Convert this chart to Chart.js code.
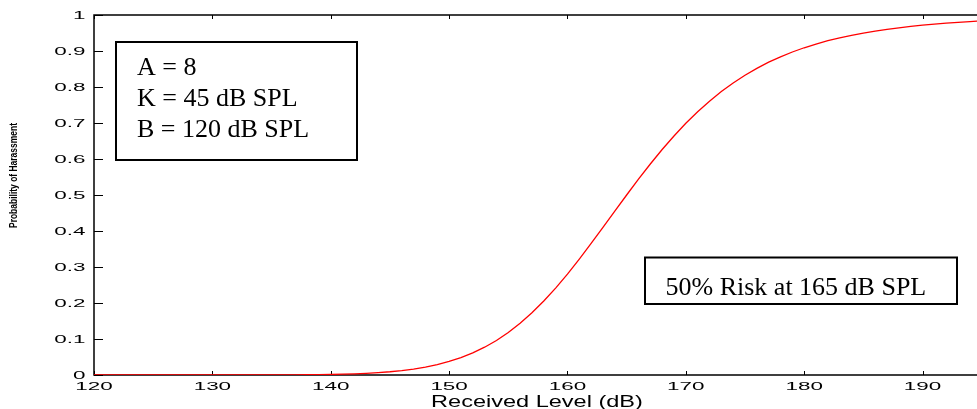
<!DOCTYPE html>
<html>
<head>
<meta charset="utf-8">
<script src="https://cdn.jsdelivr.net/npm/chart.js@4"></script>
<style>
  body { margin: 0; background: #fff; }
  canvas { display: block; }
</style>
</head>
<body>
<canvas id="chart" width="977" height="409"></canvas>
<script>
// received level (dB) and probability of harassment
const levels = [120, 121, 122, 123, 124, 125, 126, 127, 128, 129, 130, 131, 132, 133, 134, 135,
  136, 137, 138, 139, 140, 141, 142, 143, 144, 145, 146, 147, 148, 149, 150, 151, 152, 153, 154,
  155, 156, 157, 158, 159, 160, 161, 162, 163, 164, 165, 166, 167, 168, 169, 170, 171, 172, 173,
  174, 175, 176, 177, 178, 179, 180, 181, 182, 183, 184, 185, 186, 187, 188, 189, 190, 191, 192,
  193, 194, 195];
const risk = [0, 0, 0, 0, 0, 0, 0, 0, 0, 0, 0, 0.00001, 0.00003, 0.00005, 0.00009, 0.00015,
  0.00026, 0.00041, 0.00066, 0.00101, 0.00152, 0.00224, 0.00325, 0.00464, 0.0065, 0.009, 0.0123,
  0.0165, 0.022, 0.0289, 0.0376, 0.0483, 0.0614, 0.0772, 0.096, 0.1181, 0.1437, 0.1727, 0.2054,
  0.2414, 0.2804, 0.322, 0.3654, 0.41, 0.4552, 0.5, 0.5438, 0.5861, 0.6263, 0.664, 0.6991, 0.7313,
  0.7607, 0.7873, 0.8113, 0.8328, 0.8519, 0.8689, 0.8839, 0.8972, 0.909, 0.9194, 0.9285, 0.9365,
  0.9436, 0.9499, 0.9554, 0.9602, 0.9645, 0.9683, 0.9717, 0.9746, 0.9773, 0.9796, 0.9816, 0.9835];
const xTicks = [120, 130, 140, 150, 160, 170, 180, 190];
const yTicks = [0, 0.1, 0.2, 0.3, 0.4, 0.5, 0.6, 0.7, 0.8, 0.9, 1];
const yTickLabels = ["0", "0.1", "0.2", "0.3", "0.4", "0.5", "0.6", "0.7", "0.8", "0.9", "1"];
const paramLines = ["A = 8", "K = 45 dB SPL", "B = 120 dB SPL"];
const riskNote = "50% Risk at 165 dB SPL";

// matlab-ish text is stretched sideways, so draw it with a horizontal scale
function wideText(ctx, text, x, y, sx, align) {
  ctx.save();
  ctx.translate(x, y);
  ctx.scale(sx, 1);
  ctx.textAlign = align;
  ctx.fillText(text, 0, 0);
  ctx.restore();
}

const axesPlugin = {
  id: "matlabAxes",
  beforeDatasetsDraw(chart) {
    const {ctx, chartArea: a, scales: {x, y}} = chart;
    ctx.save();
    ctx.strokeStyle = "#000";
    ctx.lineWidth = 1.5;
    ctx.beginPath();
    ctx.moveTo(a.right + 2, a.top);
    ctx.lineTo(a.left, a.top);
    ctx.lineTo(a.left, a.bottom);
    ctx.lineTo(a.right + 2, a.bottom);
    ctx.stroke();

    ctx.lineWidth = 1;
    ctx.beginPath();
    xTicks.forEach(v => {
      const px = Math.round(x.getPixelForValue(v)) + 0.5;
      ctx.moveTo(px, a.bottom); ctx.lineTo(px, a.bottom - 4);
      ctx.moveTo(px, a.top); ctx.lineTo(px, a.top + 4);
    });
    yTicks.forEach(v => {
      const py = Math.round(y.getPixelForValue(v)) + 0.5;
      ctx.moveTo(a.left, py); ctx.lineTo(a.left + 9, py);
    });
    ctx.stroke();

    ctx.fillStyle = "#000";
    ctx.font = "11.5px 'Liberation Sans', Arial, sans-serif";
    ctx.textBaseline = "alphabetic";
    xTicks.forEach(v => {
      wideText(ctx, String(v), x.getPixelForValue(v), a.bottom + 14.5, 1.95, "center");
    });
    yTicks.forEach((v, i) => {
      wideText(ctx, yTickLabels[i], a.left - 8.5, y.getPixelForValue(v) + 4.2, 1.95, "right");
    });

    ctx.font = "16px 'Liberation Sans', Arial, sans-serif";
    wideText(ctx, "Received Level (dB)", 537, 406.5, 1.47, "center");

    ctx.save();
    ctx.translate(17, 175.5);
    ctx.rotate(-Math.PI / 2);
    ctx.font = "bold 10px 'Liberation Sans', Arial, sans-serif";
    ctx.textAlign = "center";
    ctx.fillText("Probability of Harassment", 0, 0, 105);
    ctx.restore();
    ctx.restore();
  },
  afterDatasetsDraw(chart) {
    const {ctx} = chart;
    ctx.save();
    ctx.fillStyle = "#fff";
    ctx.strokeStyle = "#000";
    ctx.lineWidth = 2;
    ctx.fillRect(116, 42, 241, 118);
    ctx.strokeRect(116, 42, 241, 118);
    ctx.fillRect(645, 257.5, 312, 46.5);
    ctx.strokeRect(645, 257.5, 312, 46.5);

    ctx.fillStyle = "#000";
    ctx.font = "26px 'Liberation Serif', 'Times New Roman', serif";
    ctx.textAlign = "left";
    ctx.textBaseline = "alphabetic";
    paramLines.forEach((t, i) => ctx.fillText(t, 137, 75 + i * 31));
    ctx.fillText(riskNote, 665.5, 295);
    ctx.restore();
  }
};

const config = {
  type: "line",
  data: {
    datasets: [
      {
        data: levels.map((lv, i) => ({x: lv, y: risk[i]})),
        borderColor: "#ff0000",
        borderWidth: 1.3,
        pointRadius: 0,
        tension: 0,
        fill: false,
      }
    ],
  },
  options: {
    responsive: false,
    animation: false,
    devicePixelRatio: 1,
    layout: {
      padding: {left: 94, right: 0, top: 15, bottom: 34},
    },
    plugins: {
      legend: {display: false},
      tooltip: {enabled: false},
    },
    scales: {
      x: {type: "linear", min: 120, max: 194.6, display: false},
      y: {type: "linear", min: 0, max: 1, display: false},
    },
  },
  plugins: [axesPlugin],
};

new Chart(document.getElementById("chart"), config);
</script>
</body>
</html>
